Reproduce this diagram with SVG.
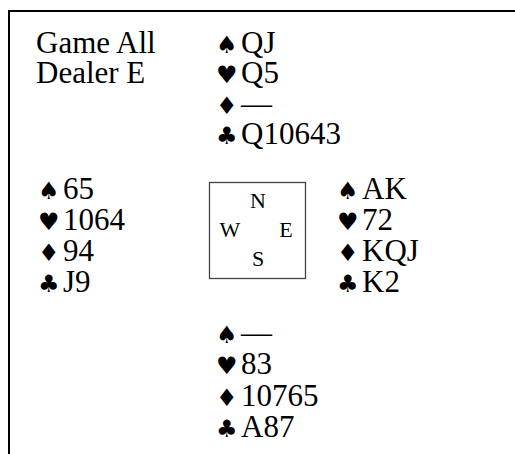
<svg xmlns="http://www.w3.org/2000/svg" width="515" height="454" viewBox="0 0 515 454">
<style>
.t{font-family:"Liberation Serif","Times New Roman",serif;font-size:31px;fill:#000}
.s{font-family:"DejaVu Sans",sans-serif;font-size:24px;fill:#000}
.c{font-family:"Liberation Serif","Times New Roman",serif;font-size:22px;fill:#000;text-anchor:middle}
.frame{fill:none;stroke:#000;stroke-width:2}
</style>
<rect width="515" height="454" fill="#fff"/>
<g id="frame">
<path class="frame" d="M9,454 V11 H515"/>
</g>
<g id="info">
<text class="t" x="36" y="53">Game All</text>
<text class="t" x="36" y="83">Dealer E</text>
</g>
<g id="north">
<text class="s" x="216" y="53">♠</text><text class="t" x="241" y="53">QJ</text>
<text class="s" x="216" y="83">♥</text><text class="t" x="241" y="83">Q5</text>
<text class="s" x="216" y="114">♦</text><text class="t" x="241" y="114">—</text>
<text class="s" x="216" y="144">♣</text><text class="t" x="241" y="144">Q10643</text>
</g>
<g id="west">
<text class="s" x="38" y="199">♠</text><text class="t" x="63" y="199">65</text>
<text class="s" x="38" y="230">♥</text><text class="t" x="63" y="230">1064</text>
<text class="s" x="38" y="261">♦</text><text class="t" x="63" y="261">94</text>
<text class="s" x="38" y="292">♣</text><text class="t" x="63" y="292">J9</text>
</g>
<g id="east">
<text class="s" x="337" y="199">♠</text><text class="t" x="362" y="199">AK</text>
<text class="s" x="337" y="230">♥</text><text class="t" x="362" y="230">72</text>
<text class="s" x="337" y="261">♦</text><text class="t" x="362" y="261">KQJ</text>
<text class="s" x="337" y="292">♣</text><text class="t" x="362" y="292">K2</text>
</g>
<g id="south">
<text class="s" x="216" y="343">♠</text><text class="t" x="241" y="343">—</text>
<text class="s" x="216" y="374">♥</text><text class="t" x="241" y="374">83</text>
<text class="s" x="216" y="406">♦</text><text class="t" x="241" y="406">10765</text>
<text class="s" x="216" y="437">♣</text><text class="t" x="241" y="437">A87</text>
</g>
<g id="compass">
<rect x="209.5" y="182.5" width="96" height="96" fill="none" stroke="#444" stroke-width="1.3"/>
<text class="c" x="258" y="208">N</text>
<text class="c" x="230" y="237">W</text>
<text class="c" x="286" y="237">E</text>
<text class="c" x="258" y="266">S</text>
</g>
</svg>
